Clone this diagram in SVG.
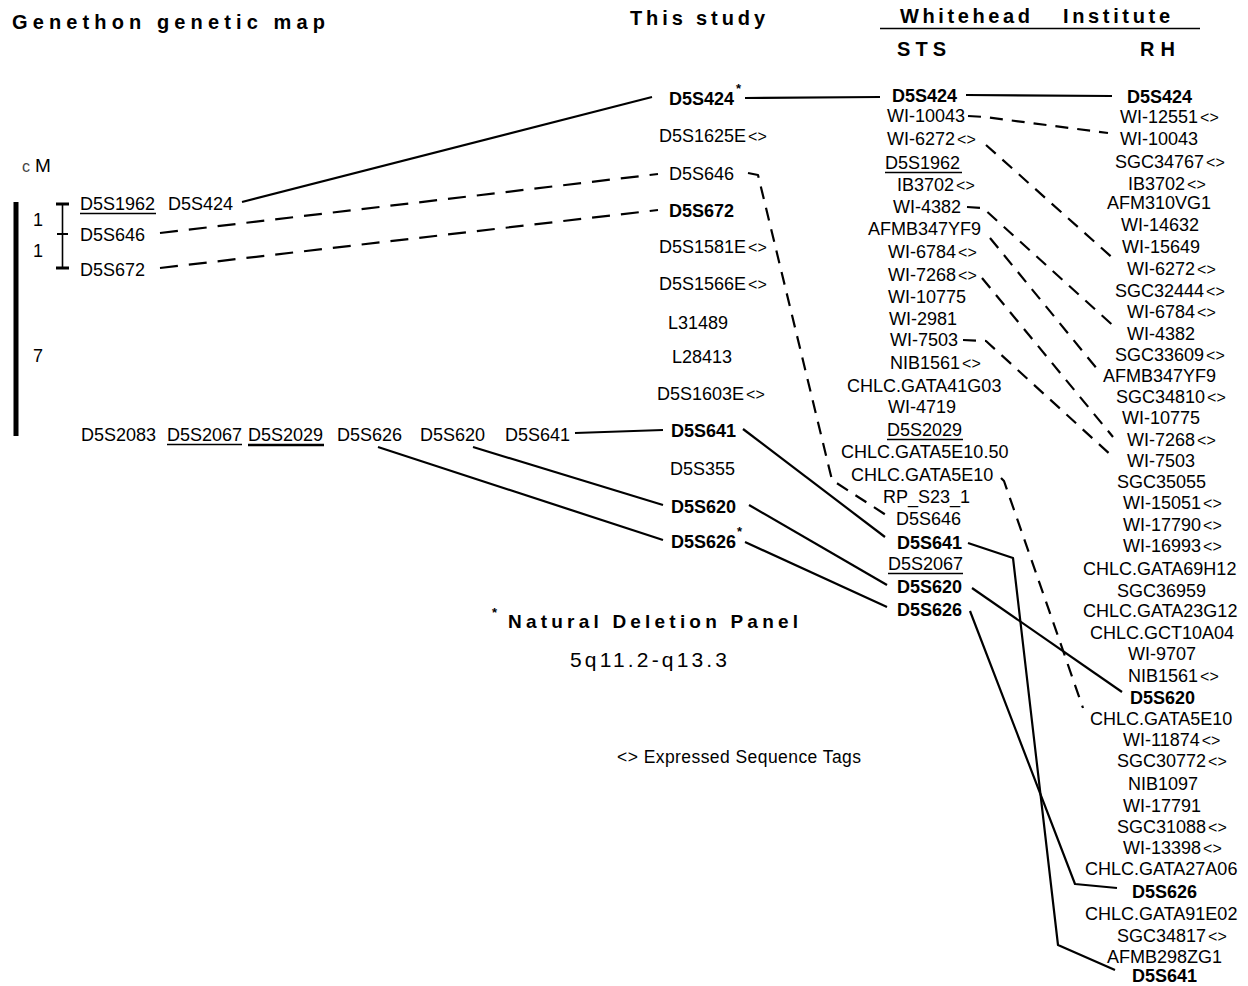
<svg xmlns="http://www.w3.org/2000/svg" width="1248" height="986" viewBox="0 0 1248 986">
<style>
.t{font-family:"Liberation Sans",Arial,Helvetica,sans-serif;font-size:18px;fill:#000}
.b{font-weight:bold}
.h{font-family:"Liberation Sans",Arial,Helvetica,sans-serif;font-size:20px;font-weight:bold;fill:#000}
.e{font-size:16px}
.u{stroke:#000;stroke-width:1.5}
.c{fill:none;stroke:#000;stroke-width:2.2;stroke-linejoin:round}
.dl{stroke-dasharray:18 11}
.ds{stroke-dasharray:13 9}
.st{font-family:"Liberation Sans",Arial,sans-serif;font-size:13px;font-weight:bold;fill:#000}
</style>
<rect width="1248" height="986" fill="#fff"/>

<g id="headers">
<text class="h" x="12" y="29" textLength="313" lengthAdjust="spacing">Genethon genetic map</text>
<text class="h" x="630" y="25" textLength="135" lengthAdjust="spacing">This study</text>
<text class="h" x="900" y="23" textLength="130" lengthAdjust="spacing">Whitehead</text>
<text class="h" x="1063" y="23" textLength="107" lengthAdjust="spacing">Institute</text>
<line x1="880" y1="28.5" x2="1200" y2="28.5" stroke="#000" stroke-width="1.6"/>
<text class="h" x="897" y="56" textLength="49" lengthAdjust="spacing">STS</text>
<text class="h" x="1140" y="56" textLength="35" lengthAdjust="spacing">RH</text>
</g>

<g id="scale">
<text class="t" x="22" y="172"><tspan style="font-size:16px" fill="#444">c</tspan><tspan dx="5" style="font-size:19px">M</tspan></text>
<rect x="13.5" y="202" width="5" height="234" fill="#000"/>
<line x1="62.5" y1="204" x2="62.5" y2="268" stroke="#000" stroke-width="1.6"/>
<line x1="56" y1="204" x2="69" y2="204" stroke="#000" stroke-width="3"/>
<line x1="57" y1="234" x2="68" y2="234" stroke="#000" stroke-width="2"/>
<line x1="56" y1="268" x2="69" y2="268" stroke="#000" stroke-width="3"/>
<text class="t" x="33" y="226">1</text>
<text class="t" x="33" y="257">1</text>
<text class="t" x="33" y="362">7</text>
</g>

<g id="connectors">
<line class="c" x1="242" y1="202" x2="652" y2="97"/>
<line class="c" x1="575" y1="433" x2="663" y2="430"/>
<line class="c" x1="473" y1="447" x2="663" y2="505"/>
<line class="c" x1="378" y1="447" x2="663" y2="540"/>
<line class="c" x1="745" y1="98" x2="880" y2="97"/>
<line class="c" x1="966" y1="95" x2="1112" y2="96" stroke-width="2.7"/>
<line class="c" x1="743" y1="429" x2="885" y2="537"/>
<line class="c" x1="749" y1="505" x2="887" y2="585"/>
<line class="c" x1="745" y1="542" x2="887" y2="607"/>
<polyline class="c" points="968,543 1013,558 1058,945 1115,970"/>
<line class="c" x1="972" y1="588" x2="1122" y2="692"/>
<polyline class="c" points="970,611 1075,884 1117,888"/>
<line class="c dl" x1="160" y1="233" x2="658" y2="174"/>
<line class="c dl" x1="160" y1="268" x2="658" y2="210"/>
<polyline class="c ds" points="748,173 758,175 832,480 886,515"/>
<polyline class="c ds" points="968,116 985,117 1108,133"/>
<line class="c ds" x1="986" y1="145" x2="1116" y2="261"/>
<polyline class="c ds" points="967,207 983,208 1118,330"/>
<line class="c ds" x1="990" y1="238" x2="1098" y2="370"/>
<line class="c ds" x1="982" y1="278" x2="1113" y2="437"/>
<polyline class="c ds" points="963,340 986,341 1113,457"/>
<polyline class="c ds" points="1001,478 1004,481 1083,708"/>
</g>

<g id="genethon">
<g id="gen-D5S1962"><text class="t" x="80" y="210">D5S1962</text><line class="u" x1="80" y1="213.5" x2="156" y2="213.5"/></g>
<g id="gen-D5S424"><text class="t" x="168" y="210">D5S424</text></g>
<g id="gen-D5S646"><text class="t" x="80" y="241">D5S646</text></g>
<g id="gen-D5S672"><text class="t" x="80" y="276">D5S672</text></g>
<g id="gen-D5S2083"><text class="t" x="81" y="441">D5S2083</text></g>
<g id="gen-D5S2067"><text class="t" x="167" y="441">D5S2067</text><line class="u" x1="167" y1="444.5" x2="242" y2="444.5"/></g>
<g id="gen-D5S2029"><text class="t" x="248" y="441">D5S2029</text><line x1="248" y1="445" x2="324" y2="445" stroke="#000" stroke-width="2.6"/></g>
<g id="gen-D5S626"><text class="t" x="337" y="441">D5S626</text></g>
<g id="gen-D5S620"><text class="t" x="420" y="441">D5S620</text></g>
<g id="gen-D5S641"><text class="t" x="505" y="441">D5S641</text></g>
</g>

<g id="study">
<g id="study-D5S424"><text class="t b" x="669" y="105">D5S424</text><text class="st" x="736" y="93">*</text></g>
<g id="study-D5S1625E"><text class="t" x="659" y="142">D5S1625E<tspan class="e" dx="2">&lt;&gt;</tspan></text></g>
<g id="study-D5S646"><text class="t" x="669" y="180">D5S646</text></g>
<g id="study-D5S672"><text class="t b" x="669" y="217">D5S672</text></g>
<g id="study-D5S1581E"><text class="t" x="659" y="253">D5S1581E<tspan class="e" dx="2">&lt;&gt;</tspan></text></g>
<g id="study-D5S1566E"><text class="t" x="659" y="290">D5S1566E<tspan class="e" dx="2">&lt;&gt;</tspan></text></g>
<g id="study-L31489"><text class="t" x="668" y="329">L31489</text></g>
<g id="study-L28413"><text class="t" x="672" y="363">L28413</text></g>
<g id="study-D5S1603E"><text class="t" x="657" y="400">D5S1603E<tspan class="e" dx="2">&lt;&gt;</tspan></text></g>
<g id="study-D5S641"><text class="t b" x="671" y="437">D5S641</text></g>
<g id="study-D5S355"><text class="t" x="670" y="475">D5S355</text></g>
<g id="study-D5S620"><text class="t b" x="671" y="513">D5S620</text></g>
<g id="study-D5S626"><text class="t b" x="671" y="548">D5S626</text><text class="st" x="737" y="536">*</text></g>
</g>

<g id="sts">
<g id="sts-D5S424"><text class="t b" x="892" y="102">D5S424</text></g>
<g id="sts-WI-10043"><text class="t" x="887" y="122">WI-10043</text></g>
<g id="sts-WI-6272"><text class="t" x="887" y="145">WI-6272<tspan class="e" dx="2">&lt;&gt;</tspan></text></g>
<g id="sts-D5S1962"><text class="t" x="885" y="169">D5S1962</text><line class="u" x1="885" y1="172.5" x2="962" y2="172.5"/></g>
<g id="sts-IB3702"><text class="t" x="897" y="191">IB3702<tspan class="e" dx="2">&lt;&gt;</tspan></text></g>
<g id="sts-WI-4382"><text class="t" x="893" y="213">WI-4382</text></g>
<g id="sts-AFMB347YF9"><text class="t" x="868" y="235">AFMB347YF9</text></g>
<g id="sts-WI-6784"><text class="t" x="888" y="258">WI-6784<tspan class="e" dx="2">&lt;&gt;</tspan></text></g>
<g id="sts-WI-7268"><text class="t" x="888" y="281">WI-7268<tspan class="e" dx="2">&lt;&gt;</tspan></text></g>
<g id="sts-WI-10775"><text class="t" x="888" y="303">WI-10775</text></g>
<g id="sts-WI-2981"><text class="t" x="889" y="325">WI-2981</text></g>
<g id="sts-WI-7503"><text class="t" x="890" y="346">WI-7503</text></g>
<g id="sts-NIB1561"><text class="t" x="890" y="369">NIB1561<tspan class="e" dx="2">&lt;&gt;</tspan></text></g>
<g id="sts-CHLC.GATA41G03"><text class="t" x="847" y="392">CHLC.GATA41G03</text></g>
<g id="sts-WI-4719"><text class="t" x="888" y="413">WI-4719</text></g>
<g id="sts-D5S2029"><text class="t" x="887" y="436">D5S2029</text><line class="u" x1="887" y1="439.5" x2="963" y2="439.5"/></g>
<g id="sts-CHLC.GATA5E10.50"><text class="t" x="841" y="458">CHLC.GATA5E10.50</text></g>
<g id="sts-CHLC.GATA5E10"><text class="t" x="851" y="481">CHLC.GATA5E10</text></g>
<g id="sts-RP_S23_1"><text class="t" x="883" y="503">RP_S23_1</text></g>
<g id="sts-D5S646"><text class="t" x="896" y="525">D5S646</text></g>
<g id="sts-D5S641"><text class="t b" x="897" y="549">D5S641</text></g>
<g id="sts-D5S2067"><text class="t" x="888" y="570">D5S2067</text><line class="u" x1="888" y1="573.5" x2="963" y2="573.5"/></g>
<g id="sts-D5S620"><text class="t b" x="897" y="593">D5S620</text></g>
<g id="sts-D5S626"><text class="t b" x="897" y="616">D5S626</text></g>
</g>

<g id="rh">
<g id="rh-D5S424"><text class="t b" x="1127" y="103">D5S424</text></g>
<g id="rh-WI-12551"><text class="t" x="1120" y="123">WI-12551<tspan class="e" dx="2">&lt;&gt;</tspan></text></g>
<g id="rh-WI-10043"><text class="t" x="1120" y="145">WI-10043</text></g>
<g id="rh-SGC34767"><text class="t" x="1115" y="168">SGC34767<tspan class="e" dx="2">&lt;&gt;</tspan></text></g>
<g id="rh-IB3702"><text class="t" x="1128" y="190">IB3702<tspan class="e" dx="2">&lt;&gt;</tspan></text></g>
<g id="rh-AFM310VG1"><text class="t" x="1107" y="209">AFM310VG1</text></g>
<g id="rh-WI-14632"><text class="t" x="1121" y="231">WI-14632</text></g>
<g id="rh-WI-15649"><text class="t" x="1122" y="253">WI-15649</text></g>
<g id="rh-WI-6272"><text class="t" x="1127" y="275">WI-6272<tspan class="e" dx="2">&lt;&gt;</tspan></text></g>
<g id="rh-SGC32444"><text class="t" x="1115" y="297">SGC32444<tspan class="e" dx="2">&lt;&gt;</tspan></text></g>
<g id="rh-WI-6784"><text class="t" x="1127" y="318">WI-6784<tspan class="e" dx="2">&lt;&gt;</tspan></text></g>
<g id="rh-WI-4382"><text class="t" x="1127" y="340">WI-4382</text></g>
<g id="rh-SGC33609"><text class="t" x="1115" y="361">SGC33609<tspan class="e" dx="2">&lt;&gt;</tspan></text></g>
<g id="rh-AFMB347YF9"><text class="t" x="1103" y="382">AFMB347YF9</text></g>
<g id="rh-SGC34810"><text class="t" x="1116" y="403">SGC34810<tspan class="e" dx="2">&lt;&gt;</tspan></text></g>
<g id="rh-WI-10775"><text class="t" x="1122" y="424">WI-10775</text></g>
<g id="rh-WI-7268"><text class="t" x="1127" y="446">WI-7268<tspan class="e" dx="2">&lt;&gt;</tspan></text></g>
<g id="rh-WI-7503"><text class="t" x="1127" y="467">WI-7503</text></g>
<g id="rh-SGC35055"><text class="t" x="1117" y="488">SGC35055</text></g>
<g id="rh-WI-15051"><text class="t" x="1123" y="509">WI-15051<tspan class="e" dx="2">&lt;&gt;</tspan></text></g>
<g id="rh-WI-17790"><text class="t" x="1123" y="531">WI-17790<tspan class="e" dx="2">&lt;&gt;</tspan></text></g>
<g id="rh-WI-16993"><text class="t" x="1123" y="552">WI-16993<tspan class="e" dx="2">&lt;&gt;</tspan></text></g>
<g id="rh-CHLC.GATA69H12"><text class="t" x="1083" y="575">CHLC.GATA69H12</text></g>
<g id="rh-SGC36959"><text class="t" x="1117" y="597">SGC36959</text></g>
<g id="rh-CHLC.GATA23G12"><text class="t" x="1083" y="617">CHLC.GATA23G12</text></g>
<g id="rh-CHLC.GCT10A04"><text class="t" x="1090" y="639">CHLC.GCT10A04</text></g>
<g id="rh-WI-9707"><text class="t" x="1128" y="660">WI-9707</text></g>
<g id="rh-NIB1561"><text class="t" x="1128" y="682">NIB1561<tspan class="e" dx="2">&lt;&gt;</tspan></text></g>
<g id="rh-D5S620"><text class="t b" x="1130" y="704">D5S620</text></g>
<g id="rh-CHLC.GATA5E10"><text class="t" x="1090" y="725">CHLC.GATA5E10</text></g>
<g id="rh-WI-11874"><text class="t" x="1123" y="746">WI-11874<tspan class="e" dx="2">&lt;&gt;</tspan></text></g>
<g id="rh-SGC30772"><text class="t" x="1117" y="767">SGC30772<tspan class="e" dx="2">&lt;&gt;</tspan></text></g>
<g id="rh-NIB1097"><text class="t" x="1128" y="790">NIB1097</text></g>
<g id="rh-WI-17791"><text class="t" x="1123" y="812">WI-17791</text></g>
<g id="rh-SGC31088"><text class="t" x="1117" y="833">SGC31088<tspan class="e" dx="2">&lt;&gt;</tspan></text></g>
<g id="rh-WI-13398"><text class="t" x="1123" y="854">WI-13398<tspan class="e" dx="2">&lt;&gt;</tspan></text></g>
<g id="rh-CHLC.GATA27A06"><text class="t" x="1085" y="875">CHLC.GATA27A06</text></g>
<g id="rh-D5S626"><text class="t b" x="1132" y="898">D5S626</text></g>
<g id="rh-CHLC.GATA91E02"><text class="t" x="1085" y="920">CHLC.GATA91E02</text></g>
<g id="rh-SGC34817"><text class="t" x="1117" y="942">SGC34817<tspan class="e" dx="2">&lt;&gt;</tspan></text></g>
<g id="rh-AFMB298ZG1"><text class="t" x="1107" y="963">AFMB298ZG1</text></g>
<g id="rh-D5S641"><text class="t b" x="1132" y="982">D5S641</text></g>
</g>

<g id="legend">
<text class="st" x="492" y="617">*</text>
<text class="h" x="508" y="628" style="font-size:19px" textLength="290" lengthAdjust="spacing">Natural Deletion Panel</text>
<text class="t" x="570" y="667" style="font-size:21px" textLength="157" lengthAdjust="spacing">5q11.2-q13.3</text>
<text class="t" x="617" y="763" style="font-size:17.5px" textLength="244" lengthAdjust="spacing">&lt;&gt; Expressed Sequence Tags</text>
</g>
</svg>
